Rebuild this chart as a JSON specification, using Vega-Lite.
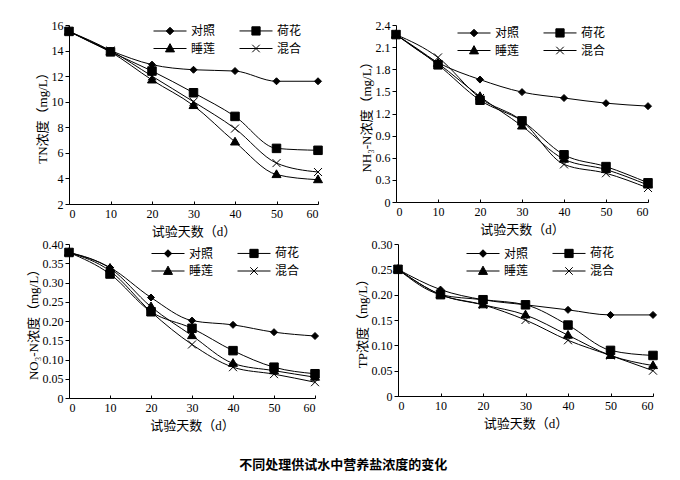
{
  "$schema": "https://vega.github.io/schema/vega-lite/v6.json",
  "padding": {"left": 26, "top": 19, "right": 5, "bottom": 5},
  "datasets": {
    "tn": [
      {"s":"对照","d":0,"v":15.5},{"s":"对照","d":10,"v":14.0},{"s":"对照","d":20,"v":12.9},{"s":"对照","d":30,"v":12.5},{"s":"对照","d":40,"v":12.4},{"s":"对照","d":50,"v":11.6},{"s":"对照","d":60,"v":11.6},
      {"s":"荷花","d":0,"v":15.5},{"s":"荷花","d":10,"v":13.9},{"s":"荷花","d":20,"v":12.4},{"s":"荷花","d":30,"v":10.7},{"s":"荷花","d":40,"v":8.85},{"s":"荷花","d":50,"v":6.35},{"s":"荷花","d":60,"v":6.2},
      {"s":"睡莲","d":0,"v":15.5},{"s":"睡莲","d":10,"v":13.9},{"s":"睡莲","d":20,"v":11.7},{"s":"睡莲","d":30,"v":9.7},{"s":"睡莲","d":40,"v":6.85},{"s":"睡莲","d":50,"v":4.3},{"s":"睡莲","d":60,"v":3.9},
      {"s":"混合","d":0,"v":15.5},{"s":"混合","d":10,"v":14.0},{"s":"混合","d":20,"v":12.0},{"s":"混合","d":30,"v":10.0},{"s":"混合","d":40,"v":7.9},{"s":"混合","d":50,"v":5.2},{"s":"混合","d":60,"v":4.5}
    ],
    "nh3": [
      {"s":"对照","d":0,"v":2.27},{"s":"对照","d":10,"v":1.89},{"s":"对照","d":20,"v":1.66},{"s":"对照","d":30,"v":1.49},{"s":"对照","d":40,"v":1.41},{"s":"对照","d":50,"v":1.34},{"s":"对照","d":60,"v":1.30},
      {"s":"荷花","d":0,"v":2.27},{"s":"荷花","d":10,"v":1.86},{"s":"荷花","d":20,"v":1.38},{"s":"荷花","d":30,"v":1.10},{"s":"荷花","d":40,"v":0.64},{"s":"荷花","d":50,"v":0.48},{"s":"荷花","d":60,"v":0.26},
      {"s":"睡莲","d":0,"v":2.27},{"s":"睡莲","d":10,"v":1.88},{"s":"睡莲","d":20,"v":1.43},{"s":"睡莲","d":30,"v":1.03},{"s":"睡莲","d":40,"v":0.58},{"s":"睡莲","d":50,"v":0.44},{"s":"睡莲","d":60,"v":0.23},
      {"s":"混合","d":0,"v":2.27},{"s":"混合","d":10,"v":1.96},{"s":"混合","d":20,"v":1.41},{"s":"混合","d":30,"v":1.10},{"s":"混合","d":40,"v":0.51},{"s":"混合","d":50,"v":0.39},{"s":"混合","d":60,"v":0.19}
    ],
    "no3": [
      {"s":"对照","d":0,"v":0.378},{"s":"对照","d":10,"v":0.339},{"s":"对照","d":20,"v":0.261},{"s":"对照","d":30,"v":0.201},{"s":"对照","d":40,"v":0.19},{"s":"对照","d":50,"v":0.171},{"s":"对照","d":60,"v":0.161},
      {"s":"荷花","d":0,"v":0.378},{"s":"荷花","d":10,"v":0.322},{"s":"荷花","d":20,"v":0.224},{"s":"荷花","d":30,"v":0.181},{"s":"荷花","d":40,"v":0.123},{"s":"荷花","d":50,"v":0.08},{"s":"荷花","d":60,"v":0.063},
      {"s":"睡莲","d":0,"v":0.378},{"s":"睡莲","d":10,"v":0.337},{"s":"睡莲","d":20,"v":0.237},{"s":"睡莲","d":30,"v":0.162},{"s":"睡莲","d":40,"v":0.09},{"s":"睡莲","d":50,"v":0.071},{"s":"睡莲","d":60,"v":0.054},
      {"s":"混合","d":0,"v":0.378},{"s":"混合","d":10,"v":0.33},{"s":"混合","d":20,"v":0.224},{"s":"混合","d":30,"v":0.139},{"s":"混合","d":40,"v":0.08},{"s":"混合","d":50,"v":0.062},{"s":"混合","d":60,"v":0.041}
    ],
    "tp": [
      {"s":"对照","d":0,"v":0.25},{"s":"对照","d":10,"v":0.21},{"s":"对照","d":20,"v":0.19},{"s":"对照","d":30,"v":0.18},{"s":"对照","d":40,"v":0.17},{"s":"对照","d":50,"v":0.16},{"s":"对照","d":60,"v":0.16},
      {"s":"荷花","d":0,"v":0.25},{"s":"荷花","d":10,"v":0.20},{"s":"荷花","d":20,"v":0.19},{"s":"荷花","d":30,"v":0.18},{"s":"荷花","d":40,"v":0.14},{"s":"荷花","d":50,"v":0.09},{"s":"荷花","d":60,"v":0.08},
      {"s":"睡莲","d":0,"v":0.25},{"s":"睡莲","d":10,"v":0.20},{"s":"睡莲","d":20,"v":0.18},{"s":"睡莲","d":30,"v":0.16},{"s":"睡莲","d":40,"v":0.12},{"s":"睡莲","d":50,"v":0.08},{"s":"睡莲","d":60,"v":0.06},
      {"s":"混合","d":0,"v":0.25},{"s":"混合","d":10,"v":0.20},{"s":"混合","d":20,"v":0.18},{"s":"混合","d":30,"v":0.15},{"s":"混合","d":40,"v":0.11},{"s":"混合","d":50,"v":0.08},{"s":"混合","d":60,"v":0.05}
    ]
  },
  "title": {"text": "不同处理供试水中营养盐浓度的变化", "orient": "bottom", "anchor": "middle", "font": "Noto Sans CJK SC", "fontSize": 13, "fontWeight": "bold", "color": "black", "offset": 27},
  "spacing": 0,
  "resolve": {"legend": {"shape": "independent"}, "scale": {"shape": "independent"}},
  "vconcat": [
    {
      "spacing": 35,
      "resolve": {"legend": {"shape": "independent"}, "scale": {"shape": "independent"}},
      "hconcat": [
        {
          "width": 249, "height": 179,
          "data": {"name": "tn"},
          "resolve": {"legend": {"shape": "independent"}, "scale": {"shape": "independent"}},
          "encoding": {
            "x": {"field": "d", "type": "quantitative", "scale": {"domain": [0, 60], "nice": false}, "axis": {"values": [0,10,20,30,40,50,60], "title": "试验天数（d）"}},
            "y": {"field": "v", "type": "quantitative", "scale": {"domain": [2, 16], "nice": false, "zero": false}, "axis": {"values": [2,4,6,8,10,12,14,16], "title": "TN浓度（mg/L）"}}
          },
          "layer": [
            {"mark": {"type": "line", "interpolate": "monotone", "color": "black", "strokeWidth": 1}, "encoding": {"detail": {"field": "s"}}},
            {"mark": {"type": "point", "filled": true, "color": "black", "stroke": "black", "strokeWidth": 1, "opacity": 1, "size": 100},
             "encoding": {"shape": {"field": "s", "type": "nominal", "scale": {"domain": ["对照","睡莲","荷花","混合"], "range": ["M0,-0.7L0.7,0L0,0.7L-0.7,0Z","M0,-0.95L0.9,0.6L-0.9,0.6Z","M-0.85,-0.85L0.85,-0.85L0.85,0.85L-0.85,0.85Z","M-0.8,-0.8L0.8,0.8M-0.8,0.8L0.8,-0.8"]}, "legend": null}}},
            {"mark": {"type": "point", "filled": true, "color": "black", "stroke": "black", "strokeWidth": 1, "opacity": 0},
             "encoding": {"shape": {"field": "s", "type": "nominal", "scale": {"domain": ["对照","睡莲","荷花","混合"], "range": ["M-2.2,0L2.2,0M0,-0.5L0.5,0L0,0.5L-0.5,0Z","M-2.2,0L2.2,0M0,-0.65L0.6,0.45L-0.6,0.45Z","M-2.2,0L2.2,0M-0.55,-0.55L0.55,-0.55L0.55,0.55L-0.55,0.55Z","M-2.2,0L2.2,0M-0.5,-0.5L0.5,0.5M-0.5,0.5L0.5,-0.5"]},
               "legend": {"title": null, "orient": "none", "legendX": 93, "legendY": -2.5, "columns": 2, "symbolSize": 225, "labelOffset": 13, "columnPadding": 21, "rowPadding": 3, "padding": 0,
                 "encode": {"symbols": {"update": {"opacity": {"value": 1}, "fill": {"value": "black"}, "stroke": {"value": "black"}, "strokeWidth": {"value": 1}, "size": {"value": 225}}}}}}}}
          ]
        },
        {
          "width": 252, "height": 177,
          "data": {"name": "nh3"},
          "resolve": {"legend": {"shape": "independent"}, "scale": {"shape": "independent"}},
          "encoding": {
            "x": {"field": "d", "type": "quantitative", "scale": {"domain": [0, 60], "nice": false}, "axis": {"values": [0,10,20,30,40,50,60], "title": "试验天数（d）"}},
            "y": {"field": "v", "type": "quantitative", "scale": {"domain": [0, 2.4], "nice": false}, "axis": {"values": [0,0.3,0.6,0.9,1.2,1.5,1.8,2.1,2.4], "labelExpr": "datum.value===0?'0':format(datum.value,'.1f')", "title": "NH₃-N浓度（mg/L）"}}
          },
          "layer": [
            {"mark": {"type": "line", "interpolate": "monotone", "color": "black", "strokeWidth": 1}, "encoding": {"detail": {"field": "s"}}},
            {"mark": {"type": "point", "filled": true, "color": "black", "stroke": "black", "strokeWidth": 1, "opacity": 1, "size": 100},
             "encoding": {"shape": {"field": "s", "type": "nominal", "scale": {"domain": ["对照","睡莲","荷花","混合"], "range": ["M0,-0.7L0.7,0L0,0.7L-0.7,0Z","M0,-0.95L0.9,0.6L-0.9,0.6Z","M-0.85,-0.85L0.85,-0.85L0.85,0.85L-0.85,0.85Z","M-0.8,-0.8L0.8,0.8M-0.8,0.8L0.8,-0.8"]}, "legend": null}}},
            {"mark": {"type": "point", "filled": true, "color": "black", "stroke": "black", "strokeWidth": 1, "opacity": 0},
             "encoding": {"shape": {"field": "s", "type": "nominal", "scale": {"domain": ["对照","睡莲","荷花","混合"], "range": ["M-2.2,0L2.2,0M0,-0.5L0.5,0L0,0.5L-0.5,0Z","M-2.2,0L2.2,0M0,-0.65L0.6,0.45L-0.6,0.45Z","M-2.2,0L2.2,0M-0.55,-0.55L0.55,-0.55L0.55,0.55L-0.55,0.55Z","M-2.2,0L2.2,0M-0.5,-0.5L0.5,0.5M-0.5,0.5L0.5,-0.5"]},
               "legend": {"title": null, "orient": "none", "legendX": 70, "legendY": -0.5, "columns": 2, "symbolSize": 225, "labelOffset": 13, "columnPadding": 21, "rowPadding": 3, "padding": 0,
                 "encode": {"symbols": {"update": {"opacity": {"value": 1}, "fill": {"value": "black"}, "stroke": {"value": "black"}, "strokeWidth": {"value": 1}, "size": {"value": 225}}}}}}}}
          ]
        }
      ]
    },
    {
      "spacing": 34,
      "resolve": {"legend": {"shape": "independent"}, "scale": {"shape": "independent"}},
      "hconcat": [
        {
          "width": 246, "height": 154,
          "data": {"name": "no3"},
          "resolve": {"legend": {"shape": "independent"}, "scale": {"shape": "independent"}},
          "encoding": {
            "x": {"field": "d", "type": "quantitative", "scale": {"domain": [0, 60], "nice": false}, "axis": {"values": [0,10,20,30,40,50,60], "title": "试验天数（d）"}},
            "y": {"field": "v", "type": "quantitative", "scale": {"domain": [0, 0.4], "nice": false}, "axis": {"values": [0,0.05,0.1,0.15,0.2,0.25,0.3,0.35,0.4], "labelExpr": "datum.value===0?'0':format(datum.value,'.2f')", "title": "NO₃-N浓度（mg/L）"}}
          },
          "layer": [
            {"mark": {"type": "line", "interpolate": "monotone", "color": "black", "strokeWidth": 1}, "encoding": {"detail": {"field": "s"}}},
            {"mark": {"type": "point", "filled": true, "color": "black", "stroke": "black", "strokeWidth": 1, "opacity": 1, "size": 100},
             "encoding": {"shape": {"field": "s", "type": "nominal", "scale": {"domain": ["对照","睡莲","荷花","混合"], "range": ["M0,-0.7L0.7,0L0,0.7L-0.7,0Z","M0,-0.95L0.9,0.6L-0.9,0.6Z","M-0.85,-0.85L0.85,-0.85L0.85,0.85L-0.85,0.85Z","M-0.8,-0.8L0.8,0.8M-0.8,0.8L0.8,-0.8"]}, "legend": null}}},
            {"mark": {"type": "point", "filled": true, "color": "black", "stroke": "black", "strokeWidth": 1, "opacity": 0},
             "encoding": {"shape": {"field": "s", "type": "nominal", "scale": {"domain": ["对照","睡莲","荷花","混合"], "range": ["M-2.2,0L2.2,0M0,-0.5L0.5,0L0,0.5L-0.5,0Z","M-2.2,0L2.2,0M0,-0.65L0.6,0.45L-0.6,0.45Z","M-2.2,0L2.2,0M-0.55,-0.55L0.55,-0.55L0.55,0.55L-0.55,0.55Z","M-2.2,0L2.2,0M-0.5,-0.5L0.5,0.5M-0.5,0.5L0.5,-0.5"]},
               "legend": {"title": null, "orient": "none", "legendX": 91, "legendY": 1, "columns": 2, "symbolSize": 225, "labelOffset": 13, "columnPadding": 21, "rowPadding": 3, "padding": 0,
                 "encode": {"symbols": {"update": {"opacity": {"value": 1}, "fill": {"value": "black"}, "stroke": {"value": "black"}, "strokeWidth": {"value": 1}, "size": {"value": 225}}}}}}}}
          ]
        },
        {
          "width": 255, "height": 152,
          "data": {"name": "tp"},
          "resolve": {"legend": {"shape": "independent"}, "scale": {"shape": "independent"}},
          "encoding": {
            "x": {"field": "d", "type": "quantitative", "scale": {"domain": [0, 60], "nice": false}, "axis": {"values": [0,10,20,30,40,50,60], "title": "试验天数（d）"}},
            "y": {"field": "v", "type": "quantitative", "scale": {"domain": [0, 0.3], "nice": false}, "axis": {"values": [0,0.05,0.1,0.15,0.2,0.25,0.3], "labelExpr": "datum.value===0?'0':format(datum.value,'.2f')", "title": "TP浓度（mg/L）"}}
          },
          "layer": [
            {"mark": {"type": "line", "interpolate": "monotone", "color": "black", "strokeWidth": 1}, "encoding": {"detail": {"field": "s"}}},
            {"mark": {"type": "point", "filled": true, "color": "black", "stroke": "black", "strokeWidth": 1, "opacity": 1, "size": 100},
             "encoding": {"shape": {"field": "s", "type": "nominal", "scale": {"domain": ["对照","睡莲","荷花","混合"], "range": ["M0,-0.7L0.7,0L0,0.7L-0.7,0Z","M0,-0.95L0.9,0.6L-0.9,0.6Z","M-0.85,-0.85L0.85,-0.85L0.85,0.85L-0.85,0.85Z","M-0.8,-0.8L0.8,0.8M-0.8,0.8L0.8,-0.8"]}, "legend": null}}},
            {"mark": {"type": "point", "filled": true, "color": "black", "stroke": "black", "strokeWidth": 1, "opacity": 0},
             "encoding": {"shape": {"field": "s", "type": "nominal", "scale": {"domain": ["对照","睡莲","荷花","混合"], "range": ["M-2.2,0L2.2,0M0,-0.5L0.5,0L0,0.5L-0.5,0Z","M-2.2,0L2.2,0M0,-0.65L0.6,0.45L-0.6,0.45Z","M-2.2,0L2.2,0M-0.55,-0.55L0.55,-0.55L0.55,0.55L-0.55,0.55Z","M-2.2,0L2.2,0M-0.5,-0.5L0.5,0.5M-0.5,0.5L0.5,-0.5"]},
               "legend": {"title": null, "orient": "none", "legendX": 77, "legendY": 1, "columns": 2, "symbolSize": 225, "labelOffset": 13, "columnPadding": 21, "rowPadding": 3, "padding": 0,
                 "encode": {"symbols": {"update": {"opacity": {"value": 1}, "fill": {"value": "black"}, "stroke": {"value": "black"}, "strokeWidth": {"value": 1}, "size": {"value": 225}}}}}}}}
          ]
        }
      ]
    }
  ],
  "config": {
    "background": "white",
    "view": {"stroke": null},
    "axis": {"grid": false, "domainColor": "black", "tickColor": "black", "labelColor": "black", "titleColor": "black", "labelFont": "Liberation Serif", "labelFontSize": 12, "titleFont": "Liberation Serif, Noto Sans CJK SC", "titleFontSize": 13, "titleFontWeight": "normal", "tickSize": 4, "labelPadding": 2, "titlePadding": 2},
    "axisX": {"tickSize": -3, "labelPadding": 7, "titlePadding": 6},
    "legend": {"labelFont": "Noto Sans CJK SC", "labelFontSize": 12, "labelColor": "black", "symbolStrokeWidth": 1}
  }
}
